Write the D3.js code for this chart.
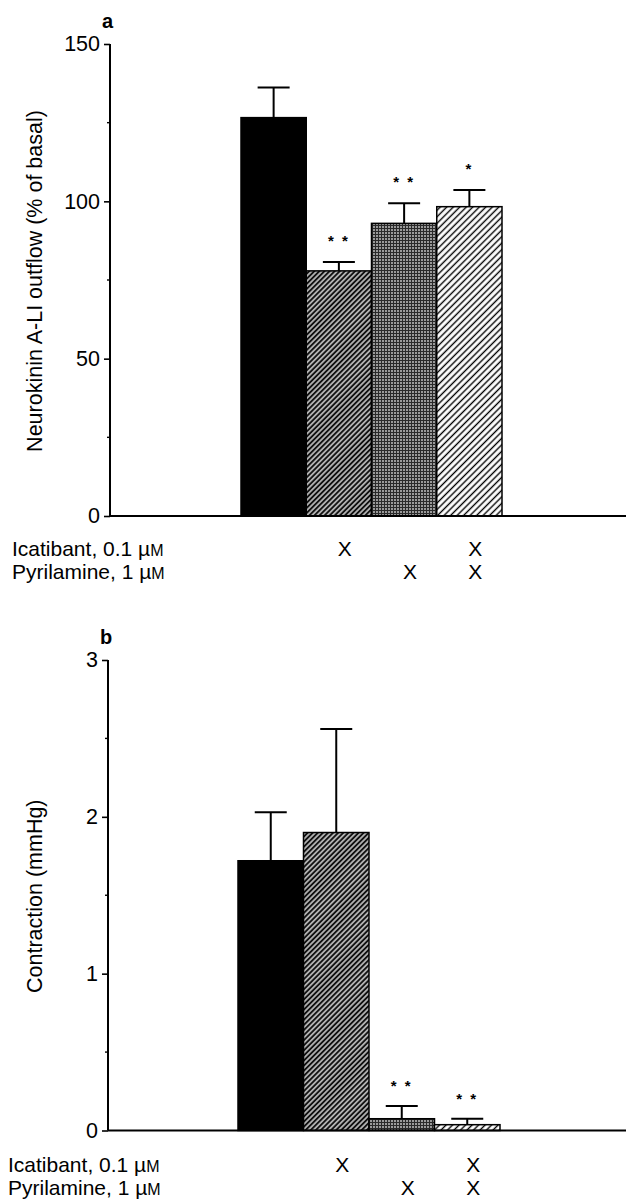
<!DOCTYPE html>
<html>
<head>
<meta charset="utf-8">
<script src="https://cdn.jsdelivr.net/npm/d3@7"></script>
<style>
  html, body { margin: 0; padding: 0; background: #fff; }
  svg { display: block; font-family: "Liberation Sans", Arial, Helvetica, sans-serif; }
</style>
</head>
<body>
<svg id="chart" width="626" height="1199"></svg>
<script>
// ---- data ----
const categories = ["Control", "Icatibant", "Pyrilamine", "Icatibant + Pyrilamine"];
const nkaMean = [126.6, 77.9, 93.0, 98.3];
const nkaSem  = [9.6, 2.8, 6.4, 5.3];
const nkaSig  = ["", "* *", "* *", "*"];
const contractionMean = [1.72, 1.90, 0.075, 0.037];
const contractionSem  = [0.31, 0.66, 0.081, 0.038];
const contractionSig  = ["", "", "* *", "* *"];
const icatibantGiven  = [false, true, false, true];
const pyrilamineGiven = [false, false, true, true];
const nkaTicks = [0, 50, 100, 150];
const nkaMinorTicks = [25, 75, 125];
const contractionTicks = [0, 1, 2, 3];
const contractionMinorTicks = [0.5, 1.5, 2.5];
const fills = ["#000", "url(#hatchDense)", "url(#stipple)", "url(#hatchLight)"];

const svg = d3.select("#chart");
const defs = svg.append("defs");

// dense dark hatch: black with thin white "/" lines
const p1 = defs.append("pattern").attr("id", "hatchDense").attr("patternUnits", "userSpaceOnUse")
  .attr("width", 3.6).attr("height", 3.6).attr("patternTransform", "rotate(45)");
p1.append("rect").attr("width", 3.6).attr("height", 3.6).attr("fill", "#111");
p1.append("line").attr("x1", 1.8).attr("x2", 1.8).attr("y1", 0).attr("y2", 3.6)
  .attr("stroke", "#eee").attr("stroke-width", 1.3);

// stipple / fine crosshatch grid (dark grey)
const p2 = defs.append("pattern").attr("id", "stipple").attr("patternUnits", "userSpaceOnUse")
  .attr("width", 3).attr("height", 3);
p2.append("rect").attr("width", 3).attr("height", 3).attr("fill", "#9a9a9a");
p2.append("rect").attr("x", 0).attr("y", 0).attr("width", 3).attr("height", 1).attr("fill", "#2a2a2a");
p2.append("rect").attr("x", 0).attr("y", 0).attr("width", 1).attr("height", 3).attr("fill", "#2a2a2a");

// light hatch: white with black "/" lines
const p3 = defs.append("pattern").attr("id", "hatchLight").attr("patternUnits", "userSpaceOnUse")
  .attr("width", 4.6).attr("height", 4.6).attr("patternTransform", "rotate(45)");
p3.append("rect").attr("width", 4.6).attr("height", 4.6).attr("fill", "#fff");
p3.append("line").attr("x1", 2.3).attr("x2", 2.3).attr("y1", 0).attr("y2", 4.6)
  .attr("stroke", "#000").attr("stroke-width", 1.4);

function drawPanel(cfg) {
  const g = svg.append("g");
  const y = d3.scaleLinear().domain([0, cfg.max]).range([cfg.y0, cfg.yTop]);
  const x = d3.scaleBand().domain(categories).range(cfg.barRange).padding(0);
  const bw = x.bandwidth();

  // panel letter
  g.append("text").attr("x", cfg.axisX - 8).attr("y", cfg.letterY)
    .attr("font-size", 20).attr("font-weight", "bold").text(cfg.letter);

  // y axis
  const axis = d3.axisLeft(y).tickValues(cfg.ticks).tickSize(6).tickPadding(4)
    .tickFormat(d3.format("d"));
  const ag = g.append("g").attr("transform", `translate(${cfg.axisX},0)`).call(axis);
  ag.select(".domain").attr("d", `M0,${y(cfg.max)}V${y(0)}`).attr("stroke", "#000").attr("stroke-width", 2);
  ag.selectAll(".tick line").attr("stroke-width", 1.6);
  ag.selectAll(".tick text").attr("font-size", 21.5).attr("font-family", "Liberation Sans, Arial, sans-serif")
    .attr("fill", "#000");
  g.append("g").selectAll("line").data(cfg.minor).join("line")
    .attr("x1", cfg.axisX - 3).attr("x2", cfg.axisX).attr("y1", d => y(d)).attr("y2", d => y(d))
    .attr("stroke", "#000").attr("stroke-width", 1.4);

  // y axis title
  g.append("text")
    .attr("transform", `translate(${cfg.titleX},${(y(0) + y(cfg.max)) / 2 + 1}) rotate(-90)`)
    .attr("text-anchor", "middle").attr("font-size", 21.5).text(cfg.title);

  // bars
  g.append("g").selectAll("rect").data(categories).join("rect")
    .attr("x", d => x(d)).attr("width", bw)
    .attr("y", (d, i) => y(cfg.mean[i])).attr("height", (d, i) => y(0) - y(cfg.mean[i]))
    .attr("fill", (d, i) => fills[i]).attr("stroke", "#000").attr("stroke-width", 1.5);

  // error bars
  const eg = g.append("g").attr("stroke", "#000").attr("stroke-width", 2);
  categories.forEach((c, i) => {
    const cx = x(c) + bw / 2;
    eg.append("line").attr("x1", cx).attr("x2", cx)
      .attr("y1", y(cfg.mean[i])).attr("y2", y(cfg.mean[i] + cfg.sem[i]));
    eg.append("line").attr("x1", cx - 16).attr("x2", cx + 16)
      .attr("y1", y(cfg.mean[i] + cfg.sem[i])).attr("y2", y(cfg.mean[i] + cfg.sem[i]));
  });

  // significance stars
  g.append("g").selectAll("text").data(categories).join("text")
    .attr("x", d => x(d) + bw / 2)
    .attr("y", (d, i) => y(cfg.mean[i] + cfg.sem[i]) - cfg.starGap + 9)
    .attr("text-anchor", "middle").attr("font-size", 15).attr("font-weight", "bold")
    .attr("letter-spacing", 2).attr("xml:space", "preserve")
    .text((d, i) => cfg.sig[i]);

  // x axis baseline
  g.append("line").attr("x1", cfg.axisX).attr("x2", 626).attr("y1", y(0)).attr("y2", y(0))
    .attr("stroke", "#000").attr("stroke-width", 2);

  // treatment rows
  const rows = [
    { label: "Icatibant, 0.1 ", given: icatibantGiven, yb: cfg.row1 },
    { label: "Pyrilamine, 1 ", given: pyrilamineGiven, yb: cfg.row2 }
  ];
  rows.forEach(r => {
    const t = g.append("text").attr("x", cfg.rowX).attr("y", r.yb).attr("font-size", 21);
    t.append("tspan").text(r.label);
    t.append("tspan").text("\u00b5");
    t.append("tspan").attr("font-size", 16).text("M");
    g.append("g").selectAll("text").data(categories.filter((c, i) => r.given[i])).join("text")
      .attr("x", d => x(d) + bw / 2 + 6).attr("y", r.yb)
      .attr("text-anchor", "middle").attr("font-size", 21).text("X");
  });
}

drawPanel({
  letter: "a", letterY: 28, axisX: 110, y0: 516, yTop: 44, max: 150,
  ticks: nkaTicks, minor: nkaMinorTicks, mean: nkaMean, sem: nkaSem, sig: nkaSig,
  title: "Neurokinin A-LI outflow (% of basal)", titleX: 42,
  barRange: [241, 502], starGap: 25, rowX: 12, row1: 556, row2: 579
});

drawPanel({
  letter: "b", letterY: 644, axisX: 108, y0: 1130.5, yTop: 660, max: 3,
  ticks: contractionTicks, minor: contractionMinorTicks, mean: contractionMean, sem: contractionSem, sig: contractionSig,
  title: "Contraction (mmHg)", titleX: 42,
  barRange: [238, 500], starGap: 24, rowX: 8, row1: 1172, row2: 1195
});
</script>
</body>
</html>
